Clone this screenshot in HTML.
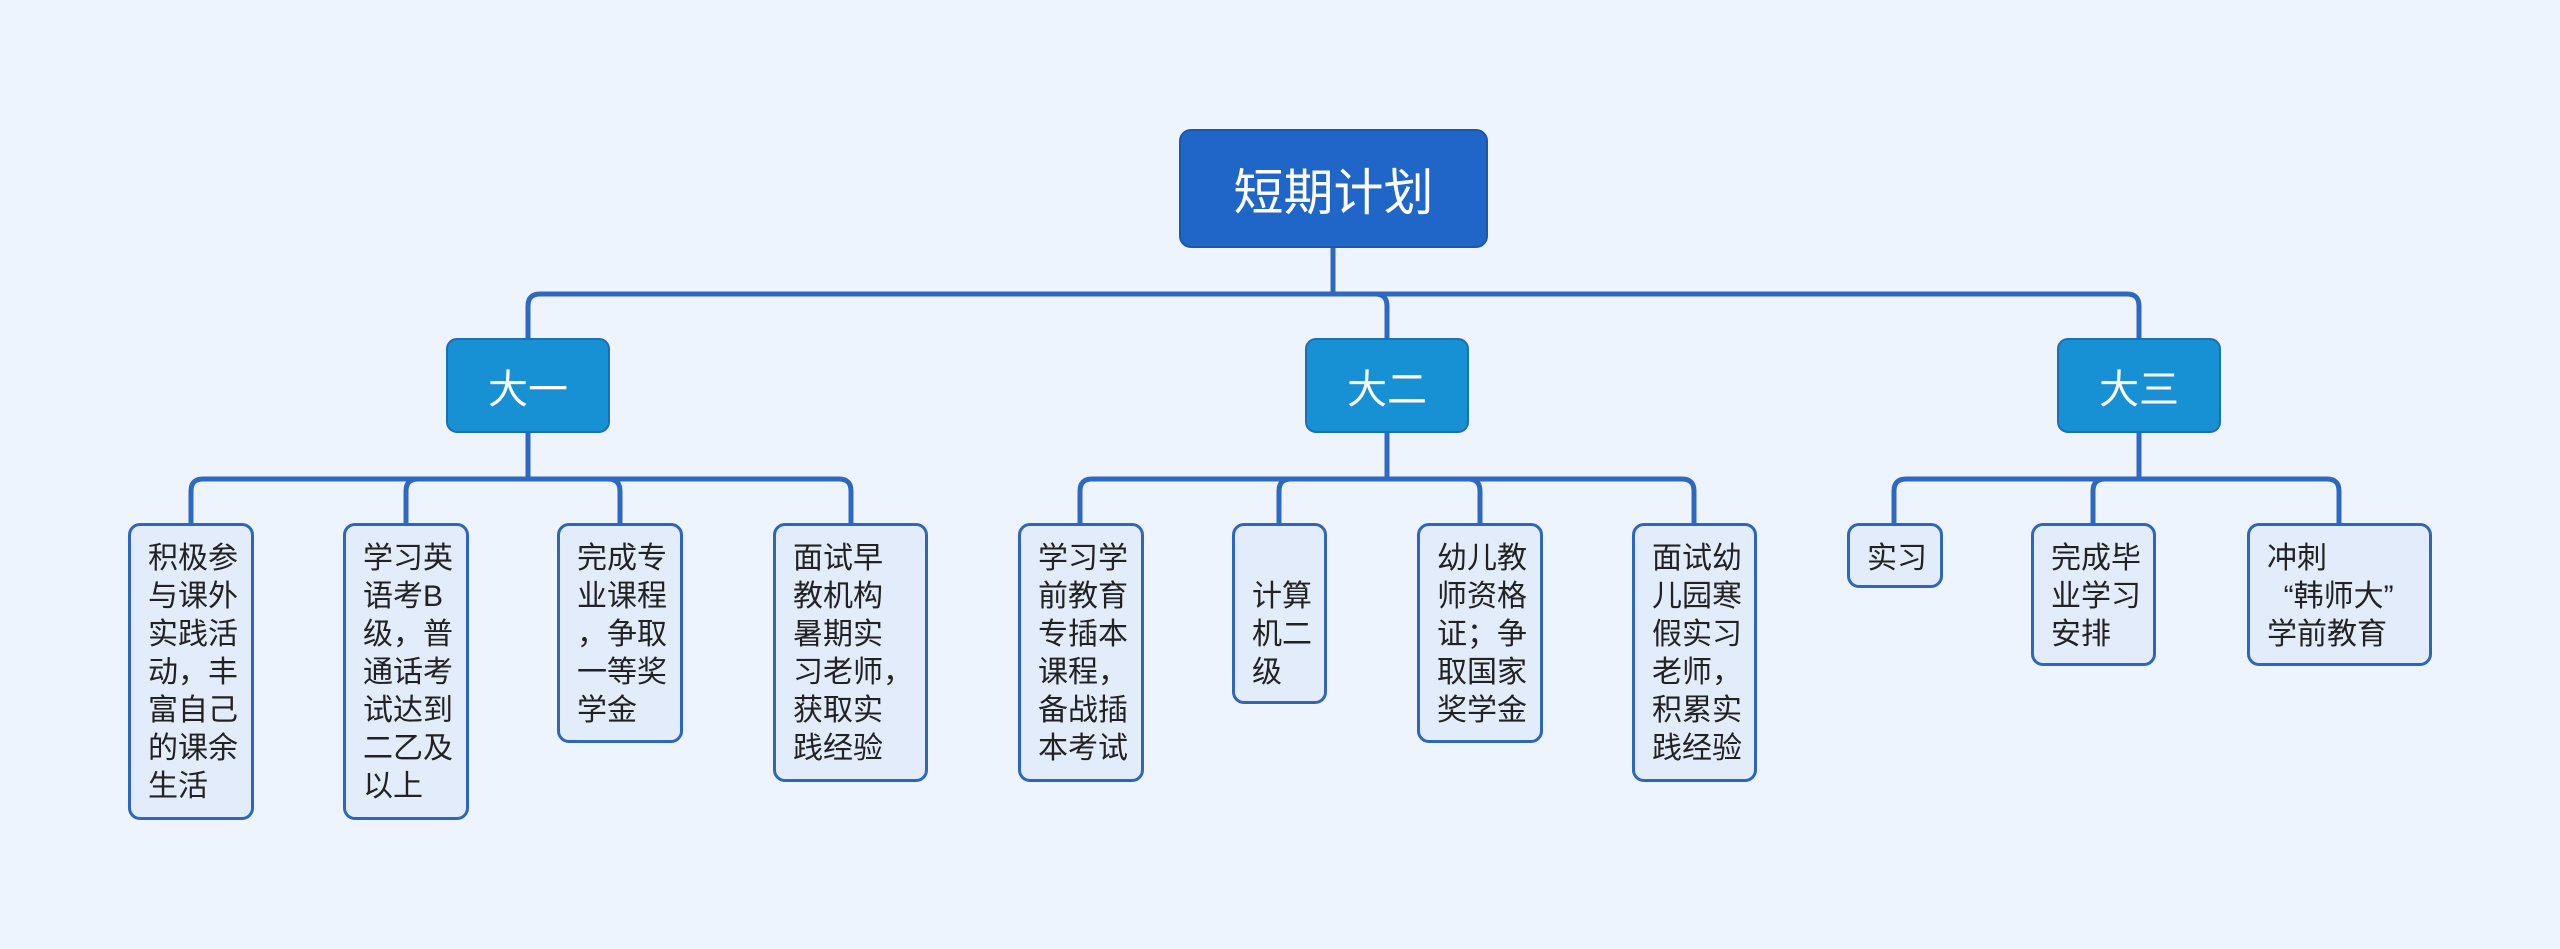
<!DOCTYPE html>
<html><head><meta charset="utf-8"><style>
html,body{margin:0;padding:0;}
body{width:2560px;height:949px;background:#eef4fe;position:relative;overflow:hidden;font-family:"Liberation Sans","Noto Sans CJK SC",sans-serif;}
.n{position:absolute;box-sizing:border-box;}
.root{left:1179px;top:129px;width:309px;height:119px;background:#1f66c8;border:2px solid #1a58b0;border-radius:12px;color:#fff;font-size:50px;display:flex;align-items:center;justify-content:center;}
.l2{top:338px;width:164px;height:95px;background:#1890d4;border:2px solid #1a6fb8;border-radius:11px;color:#fff;font-size:40px;display:flex;align-items:center;justify-content:center;}
.lf{top:523px;background:#e3ecfb;border:3px solid #2f66bd;border-radius:12px;color:#222;font-size:30px;line-height:38px;padding:14px 0 0 17px;white-space:nowrap;}
svg{position:absolute;left:0;top:0;}
</style></head><body>
<svg width="2560" height="949" fill="none" stroke="#2f68c0" stroke-width="5">
<path d="M1333 248 V294"/>
<path d="M528 338 V306 Q528 294 540 294 H2127 Q2139 294 2139 306 V338"/>
<path d="M1375 294 Q1387 294 1387 306 V338"/>
<path d="M528 433 V479"/>
<path d="M191 523 V491 Q191 479 203 479 H839 Q851 479 851 491 V523"/>
<path d="M406 523 V491 Q406 479 418 479"/>
<path d="M620 523 V491 Q620 479 608 479"/>
<path d="M1387 433 V479"/>
<path d="M1080 523 V491 Q1080 479 1092 479 H1682 Q1694 479 1694 491 V523"/>
<path d="M1279 523 V491 Q1279 479 1291 479"/>
<path d="M1480 523 V491 Q1480 479 1468 479"/>
<path d="M2139 433 V479"/>
<path d="M1894 523 V491 Q1894 479 1906 479 H2327 Q2339 479 2339 491 V523"/>
<path d="M2093 523 V491 Q2093 479 2105 479"/>
</svg>
<div class="n root">短期计划</div>
<div class="n l2" style="left:446px">大一</div>
<div class="n l2" style="left:1305px">大二</div>
<div class="n l2" style="left:2057px">大三</div>

<div class="n lf" style="left:128px;width:126px;height:297px">积极参<br>与课外<br>实践活<br>动，丰<br>富自己<br>的课余<br>生活</div>
<div class="n lf" style="left:343px;width:126px;height:297px">学习英<br>语考B<br>级，普<br>通话考<br>试达到<br>二乙及<br>以上</div>
<div class="n lf" style="left:557px;width:126px;height:220px">完成专<br>业课程<br>，争取<br>一等奖<br>学金</div>
<div class="n lf" style="left:773px;width:155px;height:259px">面试早<br>教机构<br>暑期实<br>习老师，<br>获取实<br>践经验</div>
<div class="n lf" style="left:1018px;width:126px;height:259px">学习学<br>前教育<br>专插本<br>课程，<br>备战插<br>本考试</div>
<div class="n lf" style="left:1232px;width:95px;height:181px;padding-top:52px">计算<br>机二<br>级</div>
<div class="n lf" style="left:1417px;width:126px;height:220px">幼儿教<br>师资格<br>证；争<br>取国家<br>奖学金</div>
<div class="n lf" style="left:1632px;width:125px;height:259px">面试幼<br>儿园寒<br>假实习<br>老师，<br>积累实<br>践经验</div>
<div class="n lf" style="left:1847px;width:96px;height:65px">实习</div>
<div class="n lf" style="left:2031px;width:125px;height:143px">完成毕<br>业学习<br>安排</div>
<div class="n lf" style="left:2247px;width:185px;height:143px">冲刺<br>&nbsp;&nbsp;“韩师大”<br>学前教育</div>
</body></html>
